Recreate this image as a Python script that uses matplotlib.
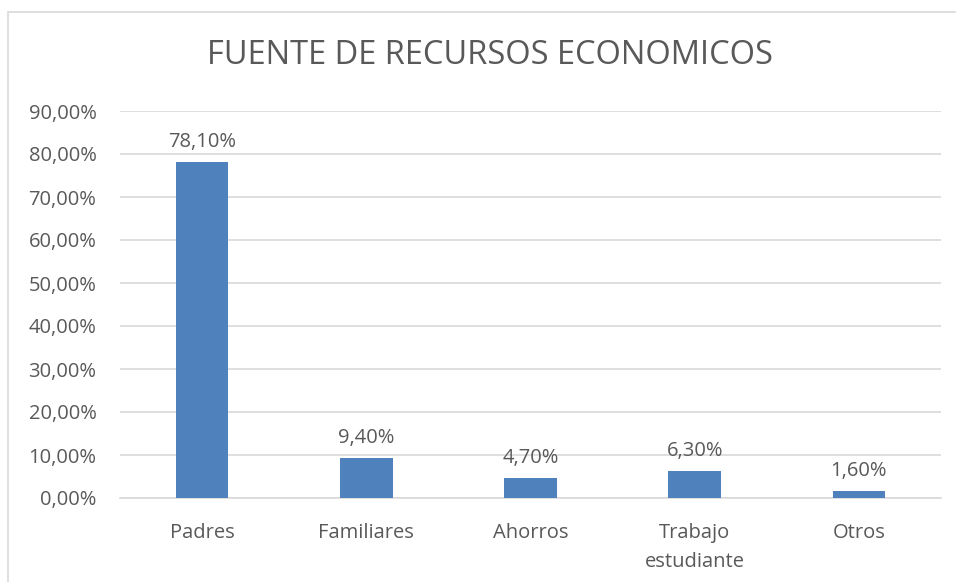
import matplotlib.pyplot as plt
from matplotlib.patches import Rectangle
from matplotlib.ticker import FuncFormatter

# datos
categorias = ['Padres', 'Familiares', 'Ahorros', 'Trabajo\nestudiante', 'Otros']
valores = [78.1, 9.4, 4.7, 6.3, 1.6]
etiquetas = ['78,10%', '9,40%', '4,70%', '6,30%', '1,60%']
titulo = 'FUENTE DE RECURSOS ECONOMICOS'

gris = '#595959'
azul = '#4f81bd'
plt.rcParams['font.family'] = ['Open Sans', 'DejaVu Sans']

fig = plt.figure(figsize=(9.56, 5.82), dpi=100)
# marco del grafico
fig.patches.append(Rectangle((8 / 956, -0.01), 1.0, 1 - 12 / 582 + 0.01,
                             transform=fig.transFigure, fill=False,
                             edgecolor='#d9d9d9', linewidth=1.2))

ax = fig.add_axes([120 / 956, 1 - 498 / 582, 821 / 956, 387 / 582])
x = range(len(categorias))
ax.bar(x, valores, width=0.32, color=azul, zorder=3)

for i, (v, t) in enumerate(zip(valores, etiquetas)):
    ax.text(i, v + 2.3, t, ha='center', va='bottom', fontsize=14.5, color=gris)

ax.set_xlim(-0.5, len(categorias) - 0.5)
ax.set_ylim(0, 90)
ax.set_yticks(range(0, 91, 10))
ax.yaxis.set_major_formatter(FuncFormatter(lambda v, p: f'{v:.2f}%'.replace('.', ',')))
ax.set_xticks(list(x))
ax.set_xticklabels(categorias, linespacing=1.6)
ax.tick_params(axis='both', length=0, labelsize=14.5, colors=gris)
ax.tick_params(axis='x', pad=18)
ax.tick_params(axis='y', pad=17)
ax.yaxis.grid(True, color='#d9d9d9', linewidth=1.2, zorder=0)
for s in ['top', 'right', 'left']:
    ax.spines[s].set_visible(False)
ax.spines['bottom'].set_color('#d9d9d9')
ax.spines['bottom'].set_linewidth(1.2)

fig.text(490 / 956, 1 - 55 / 582, titulo, ha='center', va='center',
         fontsize=23.5, color=gris)

plt.savefig('out.png', dpi=100)
